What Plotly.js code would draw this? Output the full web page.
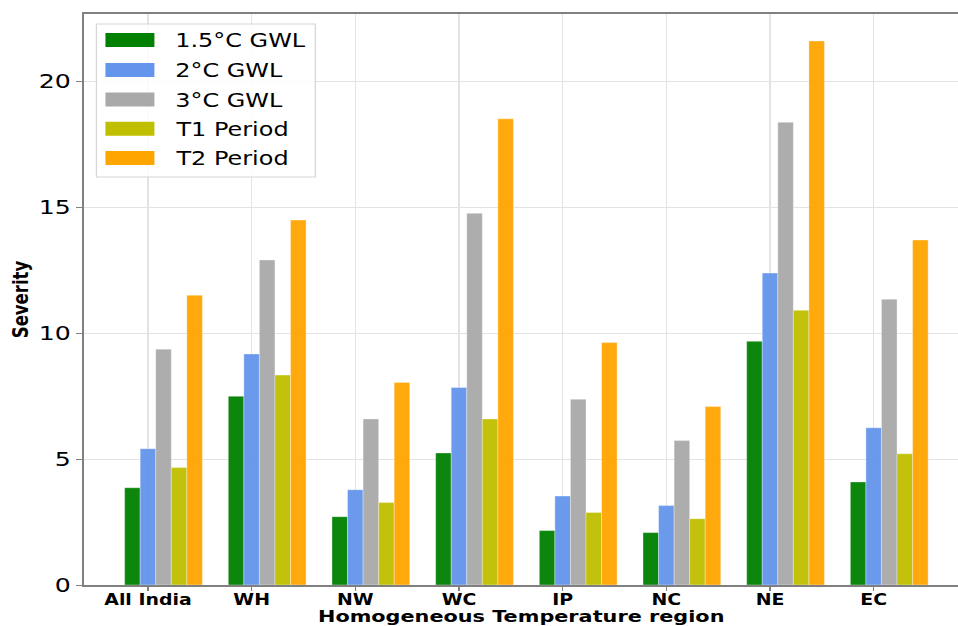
<!DOCTYPE html>
<html>
<head>
<meta charset="utf-8">
<script src="https://cdn.plot.ly/plotly-3.0.1.min.js"></script>
<style>
html,body{margin:0;padding:0;background:#fff;overflow:hidden;}
#wrap{width:958px;height:626px;overflow:hidden;}
#chart{width:760px;height:626px;transform:scaleX(1.2605);transform-origin:0 0;}
</style>
</head>
<body>
<div id="wrap"><div id="chart"></div></div>
<script>
const regions = ["All India", "WH", "NW", "WC", "IP", "NC", "NE", "EC"];
const seriesNames = ["1.5°C GWL", "2°C GWL", "3°C GWL", "T1 Period", "T2 Period"];
const gwl15 = [3.86, 7.49, 2.71, 5.24, 2.16, 2.08, 9.67, 4.09];
const gwl2  = [5.41, 9.17, 3.78, 7.84, 3.53, 3.15, 12.38, 6.24];
const gwl3  = [9.36, 12.90, 6.59, 14.75, 7.37, 5.73, 18.36, 11.34];
const t1    = [4.66, 8.33, 3.27, 6.59, 2.88, 2.63, 10.90, 5.21];
const t2    = [11.50, 14.48, 8.04, 18.50, 9.62, 7.08, 21.59, 13.69];
const seriesValues = [gwl15, gwl2, gwl3, t1, t2];
const colors = ["#008000", "#6495ED", "#A9A9A9", "#BFBF00", "#FFA500"];
const yTicks = [0, 5, 10, 15, 20];

const barW = 0.15;
const traces = seriesValues.map((vals, k) => ({
  type: "bar",
  name: seriesNames[k],
  x: regions,
  y: vals,
  width: barW,
  offset: -barW * 1.5 + k * barW,
  marker: {color: colors[k], opacity: 0.95, line: {width: 0.6, color: "rgba(255,255,255,0.5)"}},
  hoverinfo: "x+y+name",
  showlegend: false
}));

// Custom legend (matplotlib-style wide patches), placed in paper coordinates
const plotL = 84, plotR = 958, plotT = 14, plotB = 585;
const px2x = p => (p - plotL) / (plotR - plotL);
const px2y = p => (plotB - p) / (plotB - plotT);
const legRowY = [40, 70, 99.5, 128.7, 158];
const shapes = [{
  type: "rect", xref: "paper", yref: "paper", layer: "above",
  x0: px2x(96), x1: px2x(315), y0: px2y(177), y1: px2y(24),
  fillcolor: "rgba(255,255,255,0.85)", line: {color: "#d6d6d6", width: 1}
}];
const annotations = [];
seriesNames.forEach((name, k) => {
  shapes.push({
    type: "rect", xref: "paper", yref: "paper", layer: "above",
    x0: px2x(105), x1: px2x(154), y0: px2y(legRowY[k] + 7), y1: px2y(legRowY[k] - 7),
    fillcolor: colors[k], line: {width: 0}
  });
  annotations.push({
    xref: "paper", yref: "paper", x: px2x(172), y: px2y(legRowY[k]),
    xanchor: "left", yanchor: "middle", showarrow: false, text: name,
    font: {family: "DejaVu Sans", size: 19, color: "#000"}
  });
});

const layout = {
  width: 760, height: 626,
  margin: {l: 66.6, r: 0, t: 14, b: 41},
  paper_bgcolor: "#fff", plot_bgcolor: "#fff",
  barmode: "overlay",
  font: {family: "DejaVu Sans", color: "#000"},
  showlegend: false,
  shapes: shapes,
  annotations: annotations,
  xaxis: {
    type: "category",
    range: [-0.6125, 7.813],
    showline: true, linecolor: "#808080", linewidth: 1.5, mirror: true,
    ticks: "outside", ticklen: 4, tickcolor: "#808080",
    ticklabelstandoff: -4,
    showgrid: true, gridcolor: "#e3e3e3", gridwidth: 1,
    tickfont: {family: "DejaVu Sans", size: 15, color: "#000", weight: "bold"},
    title: {text: "<b>Homogeneous Temperature region</b>", font: {family: "DejaVu Sans", size: 16.5, color: "#000"}, standoff: 3},
    zeroline: false
  },
  yaxis: {
    range: [0, 22.66],
    tickvals: yTicks,
    showline: true, linecolor: "#808080", linewidth: 1.5,
    ticks: "outside", ticklen: 5, tickcolor: "#808080",
    showgrid: true, gridcolor: "#e3e3e3", gridwidth: 1,
    tickfont: {family: "DejaVu Sans", size: 20, color: "#000"},
    title: {text: "<b>Severity</b>", font: {family: "DejaVu Sans", size: 16.5, color: "#000"}, standoff: 4},
    zeroline: false
  }
};

Plotly.newPlot("chart", traces, layout, {displayModeBar: false, responsive: false});
</script>
</body>
</html>
